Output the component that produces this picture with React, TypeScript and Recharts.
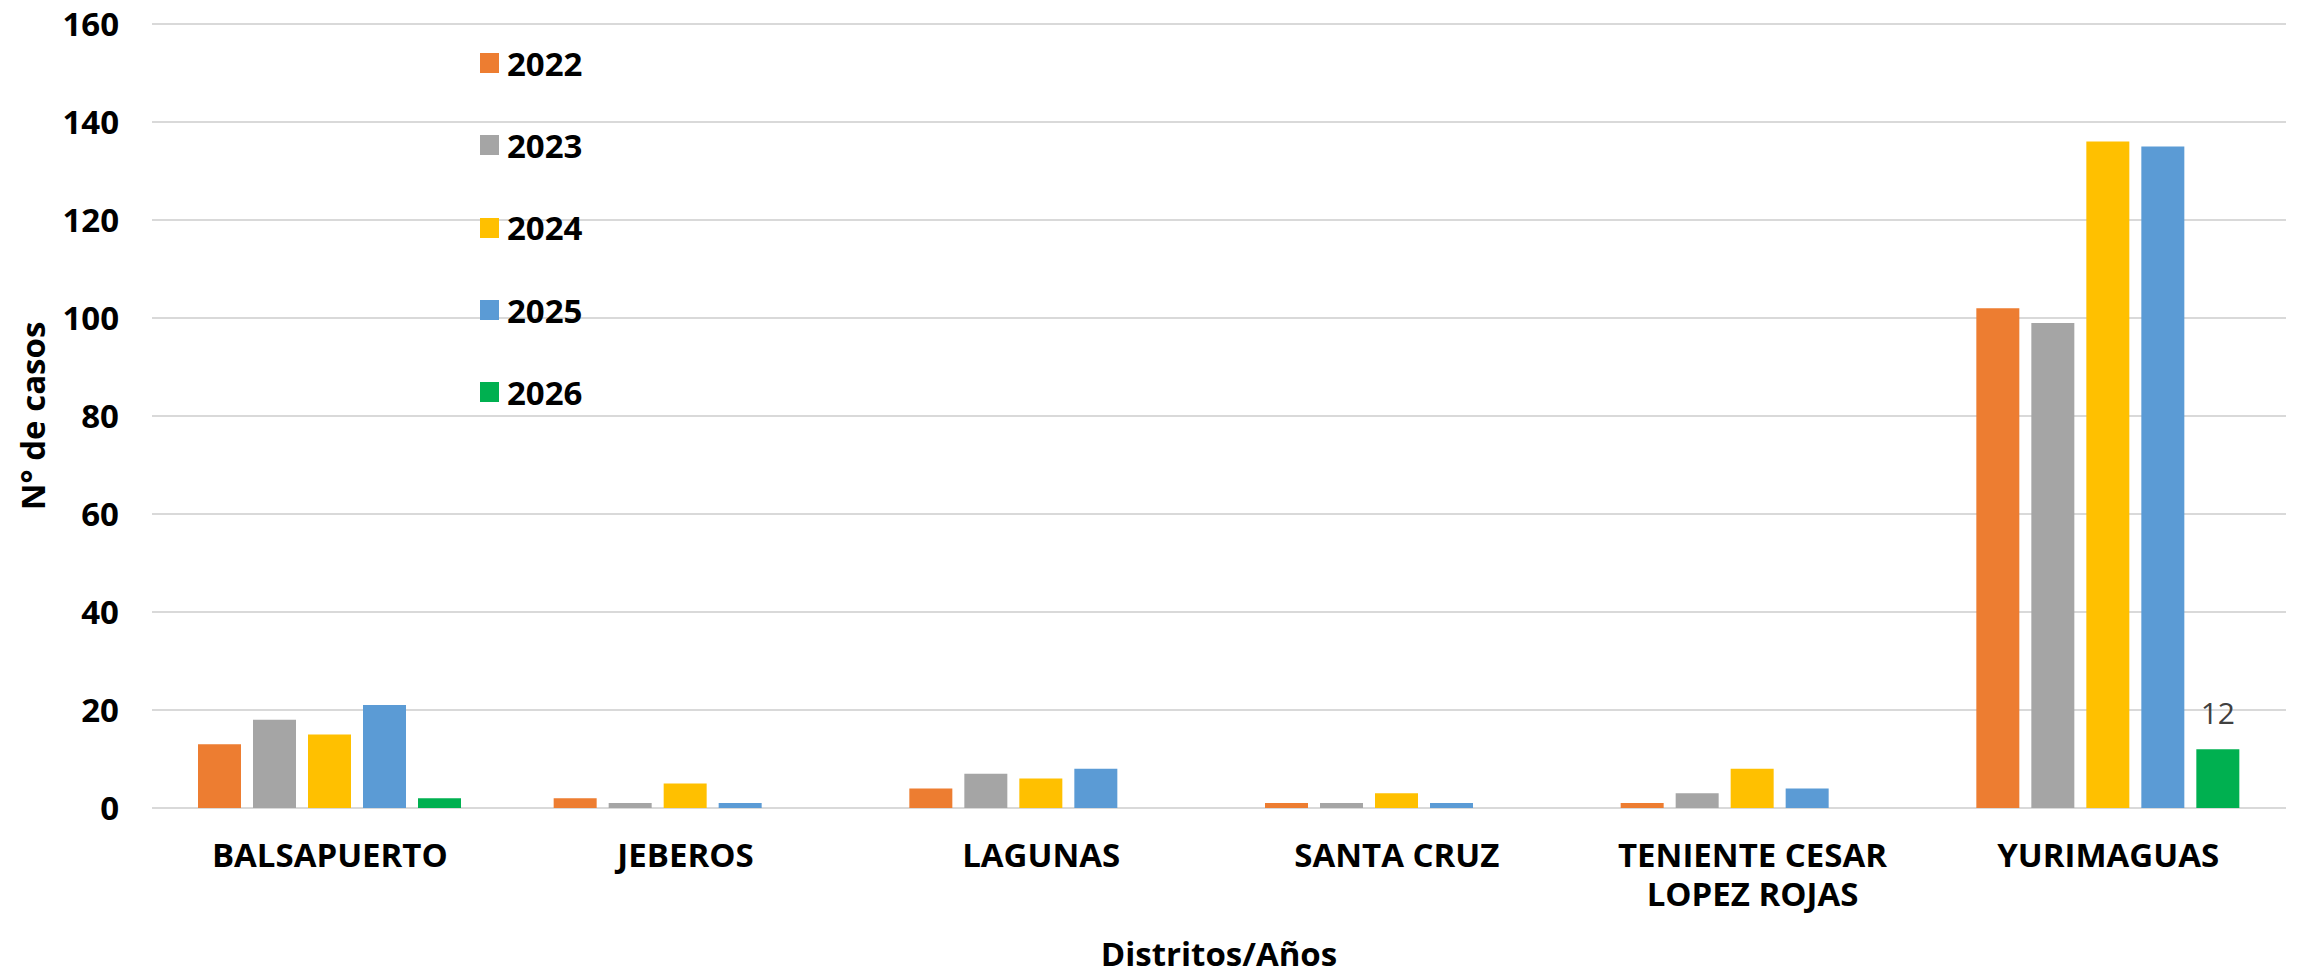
import { BarChart, Bar, XAxis, YAxis, CartesianGrid, Legend, LabelList } from "recharts";

const FONT = "'Open Sans', 'Noto Sans', sans-serif";

const distritos = ["BALSAPUERTO", "JEBEROS", "LAGUNAS", "SANTA CRUZ", "TENIENTE CESAR LOPEZ ROJAS", "YURIMAGUAS"];
const casos2022 = [13, 2, 4, 1, 1, 102];
const casos2023 = [18, 1, 7, 1, 3, 99];
const casos2024 = [15, 5, 6, 3, 8, 136];
const casos2025 = [21, 1, 8, 1, 4, 135];
const casos2026 = [2, 0, 0, 0, 0, 12];
const yTicks = [0, 20, 40, 60, 80, 100, 120, 140, 160];
// only this district shows a data label on the 2026 bar
const conEtiqueta2026 = ["YURIMAGUAS"];

const SERIES = [
  { key: "a2022", name: "2022", color: "#ED7D31" },
  { key: "a2023", name: "2023", color: "#A5A5A5" },
  { key: "a2024", name: "2024", color: "#FFC000" },
  { key: "a2025", name: "2025", color: "#5B9BD5" },
  { key: "a2026", name: "2026", color: "#00B050" },
];

const data = distritos.map((d, i) => ({
  name: d,
  a2022: casos2022[i],
  a2023: casos2023[i],
  a2024: casos2024[i],
  a2025: casos2025[i],
  a2026: casos2026[i],
}));

function wrap(text: string, max: number) {
  const lines: string[] = [];
  let cur = "";
  text.split(" ").forEach((w) => {
    const next = cur ? cur + " " + w : w;
    if (next.length > max && cur) {
      lines.push(cur);
      cur = w;
    } else cur = next;
  });
  if (cur) lines.push(cur);
  return lines;
}

function DistrictTick(props: any) {
  const { x, y, payload } = props;
  const lines = wrap(String(payload.value), 14);
  return (
    <text x={x} y={y + 59} textAnchor="middle" fill="#000" fontFamily={FONT} fontWeight={700} fontSize={33}>
      {lines.map((l, i) => (
        <tspan key={i} x={x} dy={i === 0 ? 0 : 39}>{l}</tspan>
      ))}
    </text>
  );
}

function YTitle(props: any) {
  const vb = props.viewBox || {};
  const cy = vb.y + vb.height / 2;
  return (
    <text x={45} y={cy} transform={`rotate(-90, 45, ${cy})`} textAnchor="middle"
      fill="#000" fontFamily={FONT} fontWeight={700} fontSize={33}>
      N° de casos
    </text>
  );
}

function LegendBox(props: any) {
  const items = props.payload || [];
  return (
    <div style={{ display: "flex", flexDirection: "column" }}>
      {items.map((it: any) => (
        <div key={it.value} style={{ height: 82.3, display: "flex", alignItems: "center" }}>
          <span style={{ width: 19, height: 20, background: it.color, display: "inline-block", marginRight: 8 }} />
          <span style={{ fontFamily: FONT, fontWeight: 700, fontSize: 33, color: "#000", lineHeight: 1 }}>{it.value}</span>
        </div>
      ))}
    </div>
  );
}

const label2026 = (entry: any) => {
  const row = entry && entry.payload ? entry.payload : entry;
  return row && conEtiqueta2026.includes(row.name) ? row.a2026 : null;
};

export default function App() {
  return (
    <div style={{ position: "absolute", left: 0, top: 0, width: 2300, height: 976, background: "#fff" }}>
      <BarChart width={2300} height={976} data={data} margin={{ top: 24, right: 14, left: 0, bottom: 0 }}
        barCategoryGap={46} barGap={12}>
        <CartesianGrid horizontal vertical={false} stroke="#d9d9d9" strokeWidth={2} />
        <XAxis dataKey="name" axisLine={false} tickLine={false} tickSize={0} tickMargin={0} height={168}
          interval={0} tick={<DistrictTick />}
          label={{ value: "Distritos/Años", position: "insideBottom", offset: 10, fill: "#000",
            fontFamily: FONT, fontWeight: 700, fontSize: 33 }} />
        <YAxis width={152} domain={[0, 160]} ticks={yTicks} axisLine={false} tickLine={false} tickMargin={27}
          tick={{ fill: "#000", fontFamily: FONT, fontWeight: 700, fontSize: 33 }}
          label={<YTitle />} />
        <Legend layout="vertical" align="center" verticalAlign="middle" content={<LegendBox />}
          wrapperStyle={{ top: 22, left: 480, width: "auto", bottom: "auto" }} />
        {SERIES.map((s) => (
          <Bar key={s.key} dataKey={s.key} name={s.name} fill={s.color} isAnimationActive={false}>
            {s.key === "a2026" && (
              <LabelList valueAccessor={label2026} position="top" offset={25}
                fill="#404040" fontFamily={FONT} fontSize={30} />
            )}
          </Bar>
        ))}
      </BarChart>
    </div>
  );
}
